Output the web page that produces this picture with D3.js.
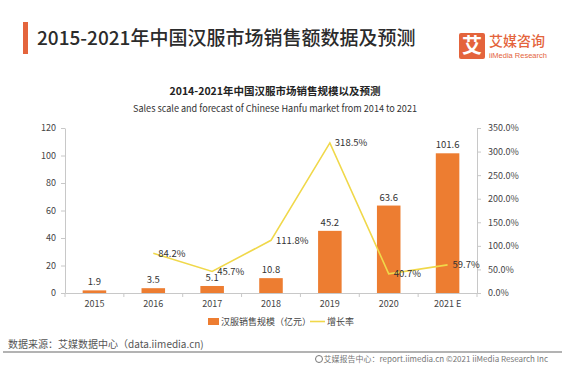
<!DOCTYPE html>
<html><head><meta charset="utf-8">
<script src="https://cdn.jsdelivr.net/npm/d3@7/dist/d3.min.js"></script>
<style>
body{margin:0;background:#fff;}
svg{display:block;font-family:"Noto Sans CJK SC","Noto Sans",sans-serif;}
</style></head>
<body><svg id="c" width="562" height="369"></svg>
<script>
const categories = ["2015","2016","2017","2018","2019","2020","2021 E"];
const salesValues = [1.9,3.5,5.1,10.8,45.2,63.6,101.6];
const growthRates = [null,84.2,45.7,111.8,318.5,40.7,59.7];
const leftTicks = [0,20,40,60,80,100,120];
const rightTicks = [0,50,100,150,200,250,300,350];

const svg = d3.select("#c");
const plot = {left:65, right:477, top:128, bottom:293};

// header
svg.append("rect").attr("x",23).attr("y",22).attr("width",5).attr("height",32).attr("fill","#E4643C");
svg.append("text").attr("x",37).attr("y",45).attr("font-size",19).attr("font-weight",500).attr("fill","#2b2b2b")
  .text("2015-2021年中国汉服市场销售额数据及预测");
const logoG = svg.append("g");
logoG.append("rect").attr("x",459).attr("y",33).attr("width",26).attr("height",26).attr("rx",2).attr("fill","#E4643C");
logoG.append("text").attr("x",472).attr("y",53).attr("text-anchor","middle").attr("font-size",20).attr("font-weight",700).attr("fill","#fff").text("艾");
logoG.append("text").attr("x",489).attr("y",46).attr("font-size",14).attr("font-weight",500).attr("fill","#E4643C").text("艾媒咨询");
logoG.append("text").attr("x",489).attr("y",58).attr("font-size",7.5).attr("fill","#E4643C").attr("font-family","Liberation Sans, sans-serif").text("iiMedia Research");

// chart titles
svg.append("text").attr("x",275).attr("y",95).attr("text-anchor","middle").attr("font-size",10.5).attr("font-weight",700).attr("fill","#222")
  .text("2014-2021年中国汉服市场销售规模以及预测");
svg.append("text").attr("x",275).attr("y",112).attr("text-anchor","middle").attr("font-size",9.5).attr("fill","#333")
  .attr("textLength",284).attr("lengthAdjust","spacingAndGlyphs")
  .text("Sales scale and forecast of Chinese Hanfu market from 2014 to 2021");

// scales
const x = d3.scaleBand().domain(categories).range([plot.left, plot.right]).paddingInner(0.6).paddingOuter(0.3);
const xc = d3.scaleBand().domain(categories).range([plot.left, plot.right]);
const yL = d3.scaleLinear().domain([0,120]).range([plot.bottom, plot.top]);
const yR = d3.scaleLinear().domain([0,350]).range([plot.bottom, plot.top]);

const axisColor = "#c8c8c8";
const tickFont = "9px";

// left axis
const gL = svg.append("g").attr("transform",`translate(${plot.left},0)`)
  .call(d3.axisLeft(yL).tickValues(leftTicks).tickSize(4).tickSizeOuter(0).tickPadding(5));
// right axis
const gR = svg.append("g").attr("transform",`translate(${plot.right},0)`)
  .call(d3.axisRight(yR).tickValues(rightTicks).tickSize(4).tickSizeOuter(0).tickPadding(7).tickFormat(d=>d.toFixed(1)+"%"));
// bottom axis
const gB = svg.append("g").attr("transform",`translate(0,${plot.bottom})`)
  .call(d3.axisBottom(xc).tickSize(0).tickPadding(8));
// boundary ticks on x axis
const bounds = categories.map(c=>xc(c)).concat([plot.right]);
gB.selectAll("line.b").data(bounds).join("line").attr("class","b")
  .attr("x1",d=>d).attr("x2",d=>d).attr("y1",0).attr("y2",4).attr("stroke",axisColor);

[gL,gR,gB].forEach(g=>{
  g.select(".domain").attr("stroke",axisColor);
  g.selectAll(".tick line").attr("stroke",axisColor);
  g.selectAll("text").attr("fill","#444").style("font-size",tickFont).attr("font-family","Noto Sans CJK SC, sans-serif");
});

// bars
svg.append("g").selectAll("rect").data(categories).join("rect")
  .attr("x",d=>x(d)).attr("width",x.bandwidth())
  .attr("y",(d,i)=>yL(salesValues[i])).attr("height",(d,i)=>plot.bottom-yL(salesValues[i]))
  .attr("fill","#ED7D31");
svg.append("g").selectAll("text").data(categories).join("text")
  .attr("x",d=>xc(d)+xc.bandwidth()/2).attr("y",(d,i)=>yL(salesValues[i])-5)
  .attr("text-anchor","middle").attr("font-size",9.5).attr("fill","#333")
  .text((d,i)=>salesValues[i]);

// line
const pts = categories.map((c,i)=>({c, v:growthRates[i]})).filter(d=>d.v!==null);
const line = d3.line().x(d=>xc(d.c)+xc.bandwidth()/2).y(d=>yR(d.v));
svg.append("path").datum(pts).attr("d",line).attr("fill","none").attr("stroke","#F0D84A").attr("stroke-width",1.6);
svg.append("g").selectAll("text").data(pts).join("text")
  .attr("x",d=>xc(d.c)+xc.bandwidth()/2+5).attr("y",d=>yR(d.v)).attr("dy","0.35em")
  .attr("font-size",9.5).attr("fill","#333").text(d=>d.v.toFixed(1)+"%");

// legend
const lg = svg.append("g");
lg.append("rect").attr("x",208).attr("y",318).attr("width",11).attr("height",7).attr("fill","#ED7D31");
lg.append("text").attr("x",221).attr("y",325).attr("font-size",9).attr("fill","#444").text("汉服销售规模（亿元）");
lg.append("line").attr("x1",310).attr("x2",325).attr("y1",321.5).attr("y2",321.5).attr("stroke","#F0D84A").attr("stroke-width",1.6);
lg.append("text").attr("x",327).attr("y",325).attr("font-size",9).attr("fill","#444").text("增长率");

// footer
svg.append("text").attr("x",8).attr("y",348).attr("font-size",10).attr("fill","#555").text("数据来源：艾媒数据中心（data.iimedia.cn)");
svg.append("line").attr("x1",3).attr("x2",562).attr("y1",352).attr("y2",352).attr("stroke","#9a9a9a").attr("stroke-width",1.5);
svg.append("circle").attr("cx",319).attr("cy",359).attr("r",3.5).attr("fill","none").attr("stroke","#777").attr("stroke-width",1);
svg.append("text").attr("x",548).attr("y",362).attr("text-anchor","end").attr("font-size",8).attr("fill","#777")
  .text("艾媒报告中心：report.iimedia.cn   ©2021  iiMedia Research  Inc");
</script></body></html>
